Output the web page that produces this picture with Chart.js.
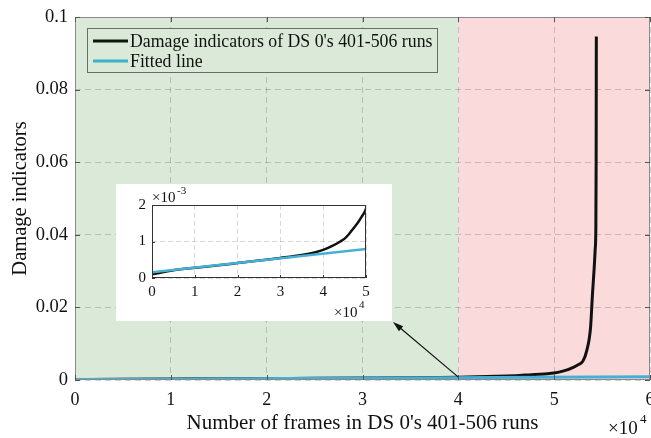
<!DOCTYPE html>
<html>
<head>
<meta charset="utf-8">
<script src="https://cdn.jsdelivr.net/npm/chart.js@4.4.1/dist/chart.umd.min.js"></script>
<style>
  html, body { margin: 0; padding: 0; background: #ffffff; }
  #wrap { position: relative; width: 651px; height: 438px; }
  #main { position: absolute; left: 0; top: 0; }
  #insetBox { position: absolute; left: 116px; top: 184px; width: 276px; height: 137px; background: #ffffff; }
  #inset { position: absolute; left: 0; top: 0; }
</style>
</head>
<body>
<div id="wrap">
  <canvas id="main" width="651" height="438"></canvas>
  <div id="insetBox"><canvas id="inset" width="276" height="137"></canvas></div>
</div>
<script>
// ---- data ----
const frames = [0, 5000, 10000, 15000, 20000, 25000, 30000, 35000, 38000, 40000, 42000, 44000, 45000, 46000, 47000, 48000, 49000, 50000, 51000, 52000, 52500, 53000, 53400, 53800, 54000, 54180, 54280, 54350, 54380, 54400];
const damage = [0.00010, 0.00021, 0.00028, 0.00034, 0.00041, 0.00048, 0.00055, 0.00063, 0.00070, 0.00077, 0.00087, 0.00100, 0.00108, 0.00120, 0.00135, 0.00150, 0.00168, 0.0019, 0.0025, 0.0035, 0.0042, 0.0052, 0.0081, 0.0146, 0.0238, 0.031, 0.036, 0.042, 0.060, 0.0946];
const fitFrames = [0, 60000];
const fitValues = [0.00016, 0.00092];
const seriesNames = ["Damage indicators of DS 0's 401-506 runs", "Fitted line"];
const mainXTicks = [0, 10000, 20000, 30000, 40000, 50000, 60000];
const mainYTicks = [0, 0.02, 0.04, 0.06, 0.08, 0.1];
const insetXTicks = [0, 10000, 20000, 30000, 40000, 50000];
const insetYTicks = [0, 0.001, 0.002];
const regionSplit = 40000;          // boundary between green and red zones
const arrowFrom = {x: 40000, y: 0.0008};

const SERIF = "'Liberation Serif', 'Times New Roman', serif";
const BLACK = '#111111';
const BLUE = '#45b0d6';

const dmgPts = frames.map((f, i) => ({x: f, y: damage[i]}));
const fitPts = fitFrames.map((f, i) => ({x: f, y: fitValues[i]}));

function makeDatasets(lw) {
  return [
    {label: seriesNames[0], data: dmgPts, borderColor: BLACK, borderWidth: lw, pointRadius: 0, order: 2, cubicInterpolationMode: 'monotone'},
    {label: seriesNames[1], data: fitPts, borderColor: BLUE, borderWidth: lw, pointRadius: 0, order: 1}
  ];
}

const gridCfg = {color: 'rgba(0,0,0,0.18)', lineWidth: 1, drawTicks: false};

const mainDecor = {
  id: 'mainDecor',
  beforeDraw(chart) {
    const {ctx, chartArea: a, scales: {x}} = chart;
    const sx = x.getPixelForValue(regionSplit);
    ctx.save();
    ctx.fillStyle = '#dbead8';
    ctx.fillRect(a.left, a.top, sx - a.left, a.bottom - a.top);
    ctx.fillStyle = '#fadada';
    ctx.fillRect(sx, a.top, a.right - sx, a.bottom - a.top);
    ctx.restore();
  },
  afterDatasetsDraw(chart) {
    const {ctx, chartArea: a, scales: {x, y}} = chart;
    ctx.save();
    ctx.strokeStyle = '#8a8a8a';
    ctx.lineWidth = 1;
    ctx.strokeRect(a.left + 0.5, a.top + 0.5, a.right - a.left - 1, a.bottom - a.top - 1);
    ctx.strokeStyle = '#555';
    mainXTicks.forEach(v => {
      const px = Math.round(x.getPixelForValue(v)) + 0.5;
      ctx.beginPath(); ctx.moveTo(px, a.bottom); ctx.lineTo(px, a.bottom - 5); ctx.stroke();
      ctx.beginPath(); ctx.moveTo(px, a.top); ctx.lineTo(px, a.top + 5); ctx.stroke();
    });
    mainYTicks.forEach(v => {
      const py = Math.round(y.getPixelForValue(v)) + 0.5;
      ctx.beginPath(); ctx.moveTo(a.left, py); ctx.lineTo(a.left + 5, py); ctx.stroke();
      ctx.beginPath(); ctx.moveTo(a.right, py); ctx.lineTo(a.right - 5, py); ctx.stroke();
    });
    // legend
    const lx = 87, ly = 28, lw = 350, lh = 44;
    ctx.fillStyle = '#dbead8';
    ctx.fillRect(lx, ly, lw, lh);
    ctx.strokeStyle = '#6b6b6b';
    ctx.strokeRect(lx + 0.5, ly + 0.5, lw, lh);
    ctx.font = '17.8px ' + SERIF;
    ctx.textBaseline = 'middle';
    ctx.textAlign = 'left';
    chart.data.datasets.forEach((ds, i) => {
      const yy = ly + 13 + i * 20;
      ctx.strokeStyle = i === 0 ? '#0a1a0a' : '#3bb3c8';
      ctx.lineWidth = 3;
      ctx.beginPath(); ctx.moveTo(lx + 6, yy); ctx.lineTo(lx + 41, yy); ctx.stroke();
      ctx.fillStyle = '#111';
      ctx.fillText(ds.label, lx + 43, yy + 1);
    });
    // exponent label
    ctx.fillStyle = '#111';
    ctx.font = '19px ' + SERIF;
    ctx.textAlign = 'left';
    ctx.textBaseline = 'alphabetic';
    ctx.fillText('\u00d710', 608, 434);
    ctx.font = '13px ' + SERIF;
    ctx.fillText('4', 640, 423);
    // arrow to inset
    const x0 = x.getPixelForValue(arrowFrom.x), y0 = y.getPixelForValue(arrowFrom.y);
    const x1 = 393, y1 = 322;
    ctx.strokeStyle = '#111';
    ctx.lineWidth = 1.2;
    ctx.beginPath(); ctx.moveTo(x0, y0); ctx.lineTo(x1 + 4, y1 + 3.3); ctx.stroke();
    const ang = Math.atan2(y1 - y0, x1 - x0);
    ctx.fillStyle = '#111';
    ctx.beginPath();
    ctx.moveTo(x1, y1);
    ctx.lineTo(x1 - 11 * Math.cos(ang - 0.3), y1 - 11 * Math.sin(ang - 0.3));
    ctx.lineTo(x1 - 11 * Math.cos(ang + 0.3), y1 - 11 * Math.sin(ang + 0.3));
    ctx.closePath(); ctx.fill();
    ctx.restore();
  }
};

new Chart(document.getElementById('main'), {
  type: 'line',
  data: {datasets: makeDatasets(3)},
  options: {
    responsive: false, animation: false, events: [],
    layout: {padding: {top: 17, right: 1, left: 0, bottom: 0}},
    plugins: {legend: {display: false}, tooltip: {enabled: false}},
    scales: {
      x: {
        type: 'linear', min: 0, max: 60000,
        afterBuildTicks: s => { s.ticks = mainXTicks.map(v => ({value: v})); },
        afterFit: s => { s.height = 58; s.paddingLeft = 0; s.paddingRight = 0; },
        grid: {...gridCfg},
        border: {display: false, dash: [6, 4]},
        ticks: {color: '#111', font: {family: SERIF, size: 18}, padding: 9, maxRotation: 0, callback: v => String(v / 10000)},
        title: {display: true, text: "Number of frames in DS 0's 401-506 runs", color: '#111', font: {family: SERIF, size: 21}, padding: {top: 0, bottom: 2}}
      },
      y: {
        type: 'linear', min: 0, max: 0.1,
        afterBuildTicks: s => { s.ticks = mainYTicks.map(v => ({value: v})); },
        afterFit: s => { s.width = 75; s.paddingTop = 0; s.paddingBottom = 0; },
        grid: {...gridCfg},
        border: {display: false, dash: [6, 4]},
        ticks: {color: '#111', font: {family: SERIF, size: 18.5}, padding: 7, callback: v => String(Math.round(v * 100) / 100)},
        title: {display: true, text: 'Damage indicators', color: '#111', font: {family: SERIF, size: 20.5}, padding: {top: 8, bottom: 0}}
      }
    }
  },
  plugins: [mainDecor]
});

const insetDecor = {
  id: 'insetDecor',
  afterDatasetsDraw(chart) {
    const {ctx, chartArea: a, scales: {x, y}} = chart;
    ctx.save();
    ctx.strokeStyle = '#333';
    ctx.lineWidth = 1;
    ctx.strokeRect(a.left + 0.5, a.top + 0.5, a.right - a.left - 1, a.bottom - a.top - 1);
    insetXTicks.forEach(v => {
      const px = Math.round(x.getPixelForValue(v)) + 0.5;
      ctx.beginPath(); ctx.moveTo(px, a.bottom); ctx.lineTo(px, a.bottom - 3); ctx.stroke();
    });
    insetYTicks.forEach(v => {
      const py = Math.round(y.getPixelForValue(v)) + 0.5;
      ctx.beginPath(); ctx.moveTo(a.left, py); ctx.lineTo(a.left + 3, py); ctx.stroke();
    });
    ctx.fillStyle = '#111';
    ctx.textBaseline = 'alphabetic';
    ctx.font = '15px ' + SERIF;
    ctx.fillText('\u00d710', 36, 18);
    ctx.font = '11px ' + SERIF;
    ctx.fillText('-3', 61, 10);
    ctx.font = '15px ' + SERIF;
    ctx.fillText('\u00d710', 218, 133);
    ctx.font = '11px ' + SERIF;
    ctx.fillText('4', 243, 124);
    ctx.restore();
  }
};

new Chart(document.getElementById('inset'), {
  type: 'line',
  data: {datasets: makeDatasets(2.5)},
  options: {
    responsive: false, animation: false, events: [],
    layout: {padding: {top: 21, right: 26, left: 0, bottom: 0}},
    plugins: {legend: {display: false}, tooltip: {enabled: false}},
    scales: {
      x: {
        type: 'linear', min: 0, max: 50000,
        afterBuildTicks: s => { s.ticks = insetXTicks.map(v => ({value: v})); },
        afterFit: s => { s.height = 43; s.paddingLeft = 0; s.paddingRight = 0; },
        grid: {...gridCfg, color: 'rgba(0,0,0,0.15)'},
        border: {display: false, dash: [5, 3]},
        ticks: {color: '#111', font: {family: SERIF, size: 15}, padding: 5, maxRotation: 0, callback: v => String(v / 10000)}
      },
      y: {
        type: 'linear', min: 0, max: 0.002,
        afterBuildTicks: s => { s.ticks = insetYTicks.map(v => ({value: v})); },
        afterFit: s => { s.width = 36; s.paddingTop = 0; s.paddingBottom = 0; },
        grid: {...gridCfg, color: 'rgba(0,0,0,0.15)'},
        border: {display: false, dash: [5, 3]},
        ticks: {color: '#111', font: {family: SERIF, size: 15}, padding: 6, callback: v => String(Math.round(v * 1000))}
      }
    }
  },
  plugins: [insetDecor]
});
</script>
</body>
</html>
